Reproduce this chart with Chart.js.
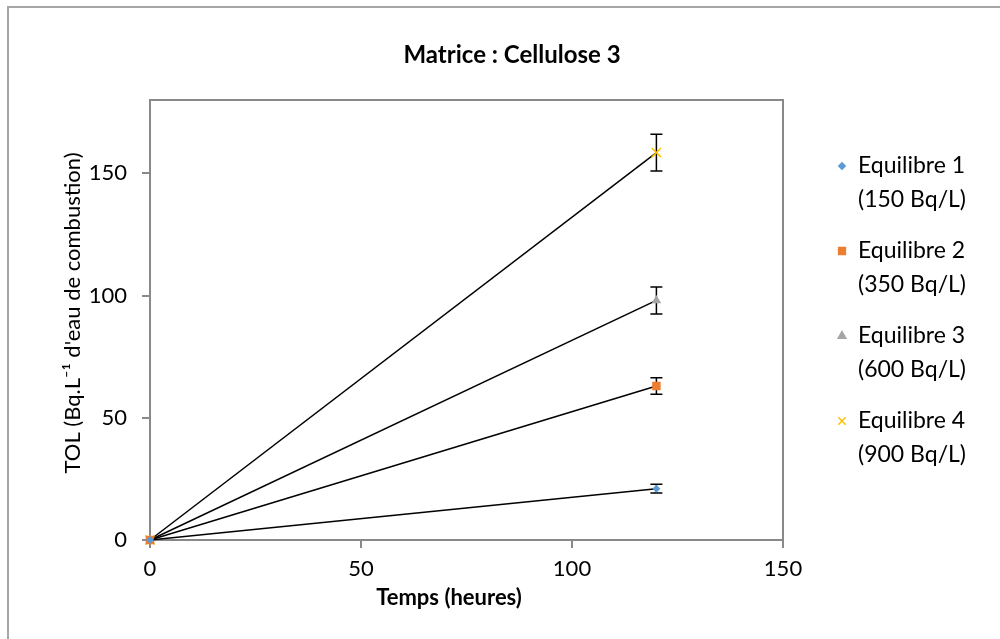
<!DOCTYPE html>
<html>
<head>
<meta charset="utf-8">
<script src="https://cdn.jsdelivr.net/npm/chart.js@4.4.0/dist/chart.umd.min.js"></script>
<style>
  body { margin: 0; background: #fff; }
  #wrap { position: relative; width: 1000px; height: 639px; overflow: hidden; }
  #frame { position: absolute; left: 7px; top: 6px; width: 1100px; height: 800px; border: 2px solid #a6a6a6; box-sizing: border-box; pointer-events: none; }
</style>
</head>
<body>
<div id="wrap">
  <canvas id="grafica" width="1000" height="639"></canvas>
  <div id="frame"></div>
</div>
<script>
// datos
const titulo = 'Matrice : Cellulose 3';
const tituloX = 'Temps (heures)';
const tituloY = 'TOL (Bq.L\u207B\u00B9 d\'eau de combustion)';
const tiempos = [0, 120];
const nombres = ['Equilibre 1', 'Equilibre 2', 'Equilibre 3', 'Equilibre 4'];
const concentraciones = ['(150 Bq/L)', '(350 Bq/L)', '(600 Bq/L)', '(900 Bq/L)'];
const eq1 = [0, 21];
const eq2 = [0, 63];
const eq3 = [0, 98];
const eq4 = [0, 158.5];
const err1 = [0, 1.8];
const err2 = [0, 3.4];
const err3 = [0, 5.5];
const err4 = [0, 7.5];
const ticksX = [0, 50, 100, 150];
const ticksY = [0, 50, 100, 150];

const series = [eq1, eq2, eq3, eq4];
const errores = [err1, err2, err3, err4];
const colores = ['#5B9BD5', '#ED7D31', '#A5A5A5', '#FFC000'];
const estilos = ['rectRot', 'rect', 'triangle', 'crossRot'];
const radios = [4, 6, 5.5, 6.5];
const gris = '#898989';
const fuente = 'Lato';

Chart.defaults.font.family = fuente;
Chart.defaults.color = '#000';

const barrasError = {
  id: 'barrasError',
  beforeDatasetsDraw(chart) {
    const { ctx, scales: { x, y } } = chart;
    ctx.save();
    ctx.strokeStyle = '#000';
    ctx.lineWidth = 1.5;
    series.forEach((vals, i) => {
      vals.forEach((v, j) => {
        const e = errores[i][j];
        if (!e) return;
        const px = x.getPixelForValue(tiempos[j]);
        const arriba = y.getPixelForValue(v + e);
        const abajo = y.getPixelForValue(v - e);
        ctx.beginPath();
        ctx.moveTo(px, arriba); ctx.lineTo(px, abajo);
        ctx.moveTo(px - 6, arriba); ctx.lineTo(px + 6, arriba);
        ctx.moveTo(px - 6, abajo); ctx.lineTo(px + 6, abajo);
        ctx.stroke();
      });
    });
    ctx.restore();
  }
};

const marcoYLeyenda = {
  id: 'marcoYLeyenda',
  beforeDatasetsDraw(chart) {
    const { ctx, chartArea: a } = chart;
    ctx.save();
    ctx.strokeStyle = gris;
    ctx.lineWidth = 2;
    ctx.strokeRect(a.left, a.top, a.right - a.left, a.bottom - a.top);
    ctx.restore();
  },
  afterDraw(chart) {
    const ctx = chart.ctx;
    ctx.save();
    ctx.fillStyle = '#000';
    ctx.textAlign = 'center';
    ctx.textBaseline = 'middle';
    ctx.font = 'bold 24px ' + fuente;
    ctx.fillText(titulo, 512, 55);
    ctx.font = 'bold 22px ' + fuente;
    ctx.fillText(tituloX, 449, 598);

    ctx.save();
    ctx.translate(73, 313);
    ctx.rotate(-Math.PI / 2);
    ctx.font = '22px ' + fuente;
    ctx.fillText(tituloY, 0, 0);
    ctx.restore();

    ctx.textAlign = 'left';
    ctx.font = '23px ' + fuente;
    nombres.forEach((n, i) => {
      const yc = 166 + i * 85;
      ctx.fillStyle = colores[i];
      ctx.strokeStyle = colores[i];
      ctx.lineWidth = 1.5;
      if (Chart.helpers && Chart.helpers.drawPoint) {
        Chart.helpers.drawPoint(ctx, { pointStyle: estilos[i], radius: radios[i] * 0.8, rotation: 0, borderWidth: 1.5 }, 842, yc);
      }
      ctx.fillStyle = '#000';
      ctx.fillText(n, 858, yc);
      ctx.fillText(concentraciones[i], 858, yc + 34);
    });
    ctx.restore();
  }
};

const ctx = document.getElementById('grafica').getContext('2d');
new Chart(ctx, {
  type: 'line',
  data: {
    datasets: series.map((vals, i) => ({
      label: nombres[i] + ' ' + concentraciones[i],
      data: vals.map((v, j) => ({ x: tiempos[j], y: v })),
      borderColor: '#000',
      borderWidth: 1.5,
      pointStyle: estilos[i],
      pointRadius: radios[i],
      pointBackgroundColor: colores[i],
      pointBorderColor: colores[i],
      pointBorderWidth: estilos[i] === 'crossRot' ? 1.5 : 0,
      tension: 0,
      fill: false,
      clip: false
    }))
  },
  options: {
    responsive: false,
    animation: false,
    layout: { padding: { top: 100, right: 217, bottom: 0, left: 0 } },
    plugins: {
      legend: { display: false },
      title: { display: false },
      tooltip: { enabled: false }
    },
    scales: {
      x: {
        type: 'linear',
        min: 0,
        max: 150,
        afterFit(scale) { scale.height = 99; },
        afterBuildTicks(scale) { scale.ticks = ticksX.map(v => ({ value: v })); },
        grid: { drawOnChartArea: false, drawTicks: true, tickLength: 8, color: gris, lineWidth: 2 },
        border: { display: true, color: gris, width: 2 },
        ticks: { font: { size: 22 }, padding: 8, color: '#000' },
        title: { display: false }
      },
      y: {
        type: 'linear',
        min: 0,
        max: 180,
        afterFit(scale) { scale.width = 150; },
        afterBuildTicks(scale) { scale.ticks = ticksY.map(v => ({ value: v })); },
        grid: { drawOnChartArea: false, drawTicks: true, tickLength: 8, color: gris, lineWidth: 2 },
        border: { display: true, color: gris, width: 2 },
        ticks: { font: { size: 22 }, padding: 15, color: '#000' },
        title: { display: false }
      }
    }
  },
  plugins: [barrasError, marcoYLeyenda]
});
</script>
</body>
</html>
